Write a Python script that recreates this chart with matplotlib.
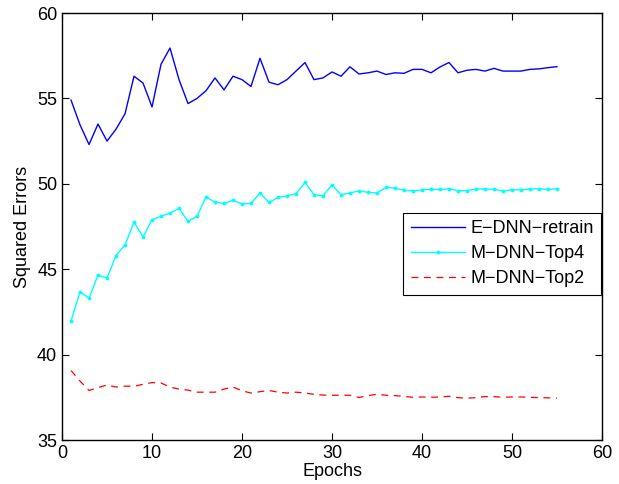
import numpy as np
import matplotlib
matplotlib.use('Agg')
import matplotlib.pyplot as plt

plt.rcParams['font.family'] = ['Liberation Sans', 'DejaVu Sans']

epochs = np.arange(1, 56)

e_dnn_retrain = [
    54.9, 53.45, 52.3, 53.5, 52.5, 53.2, 54.1, 56.3, 55.9, 54.5,
    57.0, 57.95, 56.1, 54.7, 55.0, 55.45, 56.2, 55.5, 56.3, 56.1,
    55.7, 57.35, 55.95, 55.8, 56.1, 56.6, 57.1, 56.1, 56.2, 56.55,
    56.3, 56.85, 56.43, 56.5, 56.6, 56.4, 56.5, 56.47, 56.7, 56.7,
    56.5, 56.84, 57.1, 56.5, 56.65, 56.7, 56.6, 56.76, 56.6, 56.6,
    56.6, 56.7, 56.73, 56.8, 56.86]

m_dnn_top4 = [
    41.96, 43.68, 43.3, 44.66, 44.48, 45.8, 46.43, 47.76, 46.88, 47.9,
    48.1, 48.29, 48.56, 47.8, 48.1, 49.23, 48.93, 48.85, 49.03, 48.82,
    48.85, 49.46, 48.91, 49.2, 49.3, 49.42, 50.08, 49.36, 49.3, 49.94,
    49.36, 49.47, 49.58, 49.5, 49.46, 49.79, 49.75, 49.63, 49.58, 49.65,
    49.67, 49.67, 49.71, 49.6, 49.6, 49.69, 49.7, 49.67, 49.58, 49.65,
    49.65, 49.7, 49.72, 49.67, 49.72]

m_dnn_top2 = [
    39.07, 38.45, 37.9, 38.07, 38.22, 38.1, 38.15, 38.15, 38.26, 38.36,
    38.34, 38.1, 37.98, 37.92, 37.8, 37.8, 37.8, 37.98, 38.1, 37.88,
    37.75, 37.83, 37.9, 37.8, 37.75, 37.8, 37.75, 37.68, 37.63, 37.62,
    37.62, 37.62, 37.49, 37.6, 37.68, 37.62, 37.6, 37.55, 37.5, 37.52,
    37.5, 37.52, 37.56, 37.48, 37.45, 37.48, 37.54, 37.54, 37.5, 37.52,
    37.52, 37.5, 37.48, 37.47, 37.45]

labels = ['E\u2212DNN\u2212retrain', 'M\u2212DNN\u2212Top4', 'M\u2212DNN\u2212Top2']

fig = plt.figure(figsize=(6.19, 4.84), dpi=100)
ax = fig.add_axes([0.1002, 0.0909, 0.8723, 0.8822])

ax.plot(epochs, e_dnn_retrain, color=(0, 0, 1), linewidth=1.0, label=labels[0])
ax.plot(epochs, m_dnn_top4, color=(0, 1, 1), linewidth=1.0, marker='.',
        markersize=3.5, label=labels[1])
ax.plot(epochs, m_dnn_top2, color=(1, 0, 0), linewidth=0.9,
        linestyle=(0, (5.5, 4.5)), label=labels[2])

ax.set_xlim(0, 60)
ax.set_ylim(35, 60)
ax.set_xticks(np.arange(0, 61, 10))
ax.set_yticks(np.arange(35, 61, 5))
ax.tick_params(direction='in', top=True, right=True, labelsize=13,
               length=5, width=0.8)
for sp in ax.spines.values():
    sp.set_linewidth(1.0)

ax.set_xlabel('Epochs', fontsize=13, labelpad=1)
ax.set_ylabel('Squared Errors', fontsize=13, labelpad=4)

leg = ax.legend(loc='upper right', bbox_to_anchor=(0.998, 0.532),
                borderaxespad=0, fontsize=13, fancybox=False,
                edgecolor='k', framealpha=1, handlelength=3.0,
                handletextpad=0.3, labelspacing=0.45)
leg.get_frame().set_linewidth(0.8)

fig.savefig('out.png', dpi=100)
